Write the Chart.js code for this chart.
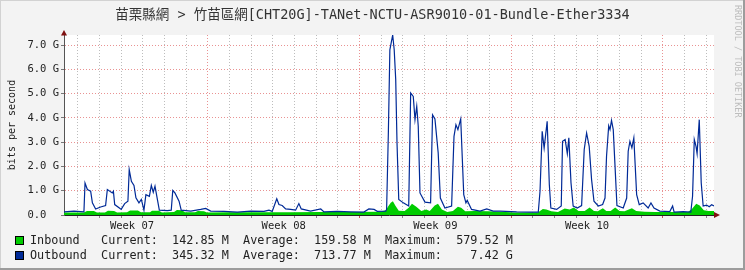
<!DOCTYPE html>
<html>
<head>
<meta charset="utf-8">
<script src="https://cdn.jsdelivr.net/npm/chart.js@4.4.1/dist/chart.umd.min.js"></script>
<style>
    html, body { margin: 0; padding: 0; background: #f3f3f3; }
</style>
</head>
<body>
<canvas id="myChart" width="745" height="270"></canvas>
<script>
// chart text
const chartTitle = '苗栗縣網 > 竹苗區網[CHT20G]-TANet-NCTU-ASR9010-01-Bundle-Ether3334';
const weekLabels = ['Week 07', 'Week 08', 'Week 09', 'Week 10'];
const weekCenters = [3.14, 10.14, 17.14, 24.14];   // days from left edge
const firstDayLine = 0.64;                         // first midnight line, in days
const majorDays = [6, 13, 20, 27];                 // which day lines are week starts

// series, x in days from graph start, y in Gbit/s
const outDays = [0.00, 0.46, 0.92, 0.97, 1.08, 1.23, 1.31, 1.46, 1.69, 1.92, 2.00, 2.23, 2.28, 2.34, 2.54, 2.64, 2.80, 2.95, 3.01, 3.11,
    3.23, 3.32, 3.46, 3.57, 3.69, 3.78, 3.94, 4.03, 4.12, 4.20, 4.31, 4.40, 4.77, 4.95, 5.02, 5.12, 5.31, 5.41, 5.85, 6.31,
    6.54, 6.77, 7.38, 8.00, 8.62, 9.23, 9.46, 9.61, 9.82, 9.92, 10.07, 10.23, 10.46, 10.69, 10.84, 10.95, 11.38, 11.85, 12.00, 12.61,
    13.23, 13.84, 14.07, 14.31, 14.46, 14.85, 14.89, 14.97, 15.04, 15.17, 15.24, 15.31, 15.37, 15.45, 15.66, 15.91, 16.00, 16.12, 16.20, 16.28,
    16.35, 16.43, 16.66, 16.92, 17.01, 17.12, 17.27, 17.37, 17.58, 17.89, 18.00, 18.09, 18.18, 18.31, 18.45, 18.55, 18.61, 18.81, 19.20, 19.51,
    19.81, 20.12, 20.89, 21.50, 21.89, 21.97, 22.07, 22.16, 22.30, 22.40, 22.47, 22.74, 22.95, 23.01, 23.13, 23.23, 23.30, 23.40, 23.50, 23.69,
    23.89, 24.01, 24.12, 24.24, 24.35, 24.46, 24.66, 24.86, 24.97, 25.04, 25.14, 25.20, 25.27, 25.35, 25.44, 25.52, 25.81, 25.97, 26.04, 26.12,
    26.21, 26.30, 26.43, 26.55, 26.73, 26.96, 27.09, 27.23, 27.50, 27.96, 28.09, 28.16, 28.58, 28.93, 29.01, 29.09, 29.17, 29.22, 29.32, 29.41,
    29.50, 29.66, 29.78, 29.89, 30.00];
const outValues = [0.13, 0.16, 0.13, 1.32, 1.05, 0.98, 0.50, 0.25, 0.33, 0.39, 1.05, 0.91, 0.98, 0.43, 0.30, 0.23, 0.47, 0.57, 1.87, 1.39,
    1.22, 0.71, 0.50, 0.64, 0.20, 0.84, 0.77, 1.22, 0.94, 1.19, 0.64, 0.20, 0.18, 0.20, 1.01, 0.91, 0.57, 0.20, 0.16, 0.23,
    0.27, 0.16, 0.15, 0.12, 0.16, 0.15, 0.20, 0.15, 0.67, 0.43, 0.39, 0.25, 0.23, 0.20, 0.47, 0.25, 0.16, 0.25, 0.13, 0.15,
    0.13, 0.12, 0.25, 0.23, 0.15, 0.16, 0.23, 3.38, 6.81, 7.42, 6.81, 5.58, 2.97, 0.64, 0.50, 0.37, 5.03, 4.89, 3.93, 4.48,
    3.66, 0.91, 0.53, 0.50, 4.13, 3.96, 2.56, 0.70, 0.29, 0.37, 3.24, 3.72, 3.52, 3.96, 0.84, 0.50, 0.60, 0.23, 0.16, 0.25,
    0.16, 0.16, 0.13, 0.12, 0.12, 0.98, 3.45, 2.76, 3.86, 1.25, 0.29, 0.23, 0.37, 3.04, 3.11, 2.53, 3.18, 1.33, 0.37, 0.29,
    0.39, 2.70, 3.38, 2.83, 1.46, 0.57, 0.37, 0.43, 0.70, 2.42, 3.68, 3.52, 3.90, 3.52, 1.87, 0.39, 0.29, 0.70, 2.63, 3.04,
    2.77, 3.18, 0.84, 0.43, 0.50, 0.29, 0.50, 0.29, 0.16, 0.14, 0.37, 0.12, 0.14, 0.12, 0.77, 3.11, 2.83, 2.53, 3.93, 1.33,
    0.37, 0.41, 0.34, 0.42, 0.37];

const inDays = [0.00, 0.92, 1.06, 1.38, 1.52, 1.89, 2.03, 2.31, 2.45, 2.91, 3.05, 3.41, 3.55, 3.97, 4.06, 4.38, 4.52, 5.08, 5.21, 5.45,
    5.58, 6.05, 6.18, 6.46, 6.60, 7.66, 9.04, 10.43, 11.81, 13.20, 14.58, 14.86, 14.95, 15.08, 15.18, 15.29, 15.45, 15.72, 15.91, 16.06,
    16.26, 16.49, 16.72, 16.88, 17.11, 17.26, 17.44, 17.69, 17.95, 18.18, 18.33, 18.52, 18.95, 19.57, 20.18, 20.80, 21.41, 21.87, 22.10, 22.26,
    22.49, 22.80, 23.11, 23.34, 23.53, 23.75, 24.03, 24.26, 24.46, 24.64, 24.87, 25.03, 25.23, 25.44, 25.64, 25.87, 26.21, 26.41, 26.80, 27.26,
    28.03, 28.80, 28.98, 29.18, 29.34, 29.53, 29.75, 30.00];
const inValues = [0.10, 0.10, 0.17, 0.17, 0.10, 0.10, 0.18, 0.17, 0.10, 0.11, 0.19, 0.19, 0.11, 0.11, 0.18, 0.18, 0.10, 0.12, 0.21, 0.20,
    0.11, 0.11, 0.16, 0.15, 0.10, 0.11, 0.11, 0.11, 0.12, 0.12, 0.13, 0.20, 0.34, 0.50, 0.57, 0.39, 0.18, 0.16, 0.30, 0.46,
    0.34, 0.16, 0.23, 0.16, 0.39, 0.46, 0.23, 0.12, 0.16, 0.34, 0.30, 0.15, 0.16, 0.15, 0.13, 0.10, 0.10, 0.10, 0.25, 0.23,
    0.15, 0.12, 0.27, 0.23, 0.31, 0.16, 0.16, 0.31, 0.16, 0.15, 0.28, 0.17, 0.17, 0.31, 0.17, 0.15, 0.28, 0.16, 0.13, 0.12,
    0.12, 0.12, 0.25, 0.46, 0.39, 0.20, 0.16, 0.16];

// legend stats
const seriesNames = ['Inbound', 'Outbound'];
const seriesColors = ['#00CC00', '#002A97'];
const currentVals = ['142.85 M', '345.32 M'];
const averageVals = ['159.58 M', '713.77 M'];
const maximumVals = ['579.52 M', '7.42 G'];

const monoFont = '"DejaVu Sans Mono", "Liberation Mono", "Noto Sans CJK TC", monospace';

const dayTicks = [];
for (let k = 0; k < 30; k++) dayTicks.push(firstDayLine + k);

const isWeekCenter = v => weekCenters.some(c => Math.abs(c - v) < 0.001);
const isMajorDay = v => majorDays.some(k => Math.abs(firstDayLine + k - v) < 0.001);

const toPoints = (xs, ys) => xs.map((x, i) => ({ x: x, y: ys[i] }));

const rrdDecor = {
    id: 'rrdDecor',
    beforeDraw(chart) {
        const ctx = chart.ctx;
        const a = chart.chartArea;
        ctx.save();
        ctx.fillStyle = '#f3f3f3';
        ctx.fillRect(0, 0, chart.width, chart.height);
        // 3d frame
        ctx.fillStyle = '#d2d2d2';
        ctx.fillRect(0, 0, chart.width, 1);
        ctx.fillRect(0, 0, 1, chart.height);
        ctx.fillStyle = '#9c9c9c';
        ctx.fillRect(0, chart.height - 2, chart.width, 2);
        ctx.fillRect(chart.width - 2, 0, 2, chart.height);
        ctx.fillStyle = '#ffffff';
        ctx.fillRect(a.left, a.top, a.right - a.left, a.bottom - a.top);
        ctx.restore();
    },
    afterDraw(chart) {
        const ctx = chart.ctx;
        const a = chart.chartArea;
        ctx.save();
        // arrows
        ctx.fillStyle = '#7f1010';
        ctx.beginPath();
        ctx.moveTo(a.left - 3, a.top + 0.5);
        ctx.lineTo(a.left + 3, a.top + 0.5);
        ctx.lineTo(a.left, a.top - 5);
        ctx.fill();
        ctx.beginPath();
        ctx.moveTo(a.right, a.bottom - 3);
        ctx.lineTo(a.right, a.bottom + 3);
        ctx.lineTo(a.right + 6, a.bottom);
        ctx.fill();

        // title
        ctx.fillStyle = '#333';
        ctx.font = '13.5px ' + monoFont;
        ctx.textAlign = 'center';
        ctx.textBaseline = 'middle';
        ctx.fillText(chartTitle, chart.width / 2, 15);

        // legend
        ctx.textAlign = 'left';
        ctx.font = '11.8px ' + monoFont;
        seriesNames.forEach((name, i) => {
            const y = 241 + i * 15;
            ctx.fillStyle = seriesColors[i];
            ctx.fillRect(15, y - 5, 9, 9);
            ctx.strokeStyle = '#000';
            ctx.lineWidth = 1;
            ctx.strokeRect(15.5, y - 4.5, 8, 8);
            ctx.fillStyle = '#222';
            const line = name.padEnd(10) + 'Current:  ' + currentVals[i].padStart(8) +
                '  Average:  ' + averageVals[i].padStart(8) + '  Maximum:  ' + maximumVals[i].padStart(8);
            ctx.fillText(line, 30, y);
        });

        // side credit
        ctx.translate(737, 5);
        ctx.rotate(Math.PI / 2);
        ctx.font = '8.5px ' + monoFont;
        ctx.fillStyle = '#bdbdbd';
        ctx.textBaseline = 'middle';
        ctx.fillText('RRDTOOL / TOBI OETIKER', 0, 0);
        ctx.restore();
    }
};

new Chart(document.getElementById('myChart'), {
    type: 'line',
    data: {
        datasets: [{
            label: seriesNames[1],
            data: toPoints(outDays, outValues),
            borderColor: seriesColors[1],
            borderWidth: 1.2,
            fill: false,
            pointRadius: 0,
            tension: 0,
            order: 0
        }, {
            label: seriesNames[0],
            data: toPoints(inDays, inValues),
            borderColor: 'rgba(0,0,0,0)',
            backgroundColor: seriesColors[0],
            borderWidth: 1,
            fill: 'origin',
            pointRadius: 0,
            tension: 0,
            order: 1
        }]
    },
    options: {
        responsive: false,
        devicePixelRatio: 1,
        animation: false,
        layout: { padding: { top: 35, right: 31, bottom: 35, left: 0 } },
        plugins: {
            legend: { display: false },
            tooltip: { enabled: false }
        },
        scales: {
            x: {
                type: 'linear',
                min: 0,
                max: 30,
                afterBuildTicks: scale => {
                    scale.ticks = dayTicks.concat(weekCenters).sort((p, q) => p - q).map(v => ({ value: v }));
                },
                afterFit: scale => { scale.height = 20; },
                ticks: {
                    autoSkip: false,
                    maxRotation: 0,
                    padding: 2,
                    color: '#222',
                    font: { family: monoFont, size: 10.5 },
                    callback: value => {
                        const i = weekCenters.findIndex(c => Math.abs(c - value) < 0.001);
                        return i >= 0 ? weekLabels[i] : '';
                    }
                },
                grid: {
                    color: ctx => {
                        const v = ctx.tick ? ctx.tick.value : 0;
                        if (isWeekCenter(v)) return 'rgba(0,0,0,0)';
                        return isMajorDay(v) ? '#e99292' : '#bdbdbd';
                    },
                    tickColor: ctx => {
                        const v = ctx.tick ? ctx.tick.value : 0;
                        if (isWeekCenter(v)) return 'rgba(0,0,0,0)';
                        return isMajorDay(v) ? '#c05050' : '#888';
                    },
                    tickLength: 3
                },
                border: { display: true, color: '#222', width: 1, dash: [1, 2] }
            },
            y: {
                min: 0,
                max: 7.42,
                afterBuildTicks: scale => {
                    const t = [];
                    for (let v = 0; v <= 7; v += 0.5) t.push({ value: v });
                    scale.ticks = t;
                },
                afterFit: scale => { scale.width = 64; },
                ticks: {
                    padding: 2,
                    color: '#222',
                    font: { family: monoFont, size: 10.5 },
                    callback: value => {
                        if (value % 1 !== 0) return '';
                        return value === 0 ? '0.0  ' : value.toFixed(1) + ' G';
                    }
                },
                grid: {
                    color: ctx => {
                        const v = ctx.tick ? ctx.tick.value : 0;
                        if (v === 0) return 'rgba(0,0,0,0)';
                        return v % 1 === 0 ? '#e99292' : '#bdbdbd';
                    },
                    tickColor: ctx => {
                        const v = ctx.tick ? ctx.tick.value : 0;
                        return v % 1 === 0 ? '#777' : 'rgba(0,0,0,0)';
                    },
                    tickLength: 3
                },
                border: { display: true, color: '#555', width: 1, dash: [1, 2] },
                title: {
                    display: true,
                    text: 'bits per second',
                    color: '#222',
                    font: { family: monoFont, size: 10 },
                    padding: { top: 6, bottom: 0 }
                }
            }
        }
    },
    plugins: [rrdDecor]
});
</script>
</body>
</html>
